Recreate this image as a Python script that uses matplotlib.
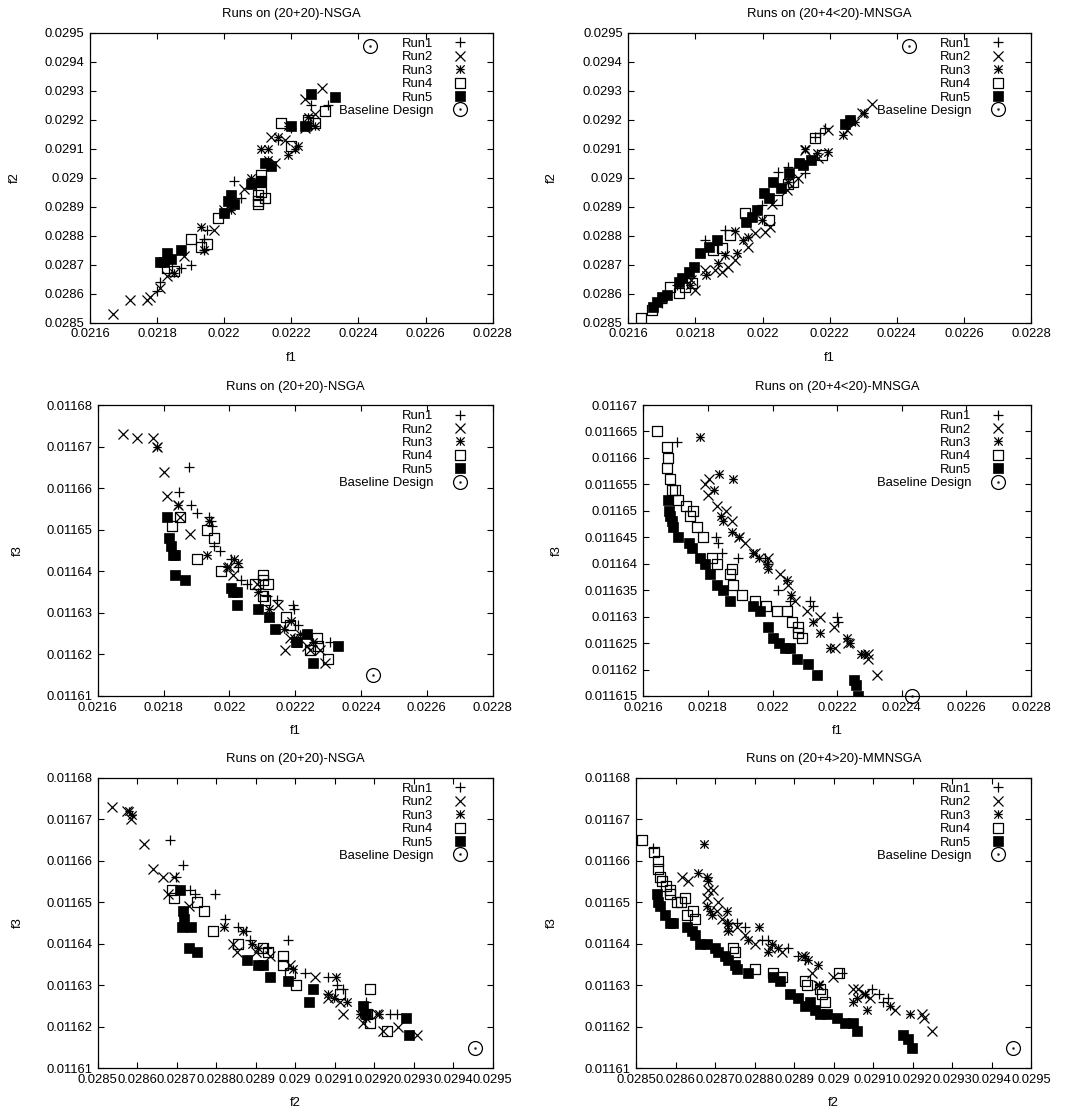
import numpy as np
import matplotlib
matplotlib.use("Agg")
import matplotlib.pyplot as plt
from matplotlib.path import Path
import matplotlib.ticker as ticker

plt.rcParams['font.family'] = ['Liberation Sans', 'DejaVu Sans']
FS = 9.4

# ---------------- data: panel A (f1 vs f2, (20+20)-NSGA) ----------------
a_run1 = [(0.02180, 0.02861), (0.02181, 0.02864), (0.02187, 0.02869), (0.02190, 0.02870),
          (0.02194, 0.02875), (0.02194, 0.02879), (0.02195, 0.02882), (0.02200, 0.02888),
          (0.02203, 0.02899), (0.02205, 0.02893), (0.02211, 0.02899), (0.02216, 0.02913),
          (0.02220, 0.02917), (0.02226, 0.02925), (0.02226, 0.02918), (0.02231, 0.02925),
          (0.02225, 0.02919)]
a_run2 = [(0.02167, 0.02853), (0.02172, 0.02858), (0.02177, 0.02858), (0.02178, 0.02859),
          (0.02181, 0.02862), (0.02183, 0.02866), (0.02188, 0.02873), (0.02197, 0.02882),
          (0.02200, 0.02889), (0.02206, 0.02896), (0.02214, 0.02914), (0.02215, 0.02905),
          (0.02218, 0.02913), (0.02224, 0.02917), (0.02224, 0.02927), (0.02227, 0.02922),
          (0.02229, 0.02931)]
a_run3 = [(0.02185, 0.02867), (0.02193, 0.02883), (0.02194, 0.02875), (0.02200, 0.02888),
          (0.02202, 0.02889), (0.02208, 0.02900), (0.02211, 0.02910), (0.02213, 0.02910),
          (0.02213, 0.02906), (0.02216, 0.02914), (0.02219, 0.02908), (0.02219, 0.02918),
          (0.02221, 0.02910), (0.02222, 0.02911), (0.02225, 0.02921), (0.02227, 0.02918)]
a_run4 = [(0.02183, 0.02869), (0.02185, 0.02868), (0.02190, 0.02879), (0.02193, 0.02876),
          (0.02195, 0.02877), (0.02198, 0.02886), (0.02210, 0.02891), (0.02210, 0.02892),
          (0.02212, 0.02893), (0.02211, 0.02899), (0.02211, 0.02901), (0.02210, 0.02894),
          (0.02211, 0.02895), (0.02217, 0.02919), (0.02220, 0.02911), (0.02227, 0.02919),
          (0.02225, 0.02920), (0.02230, 0.02923)]
a_run5 = [(0.02181, 0.02871), (0.02182, 0.02871), (0.02183, 0.02874), (0.02184, 0.02872),
          (0.02187, 0.02875), (0.02200, 0.02888), (0.02201, 0.02892), (0.02202, 0.02894),
          (0.02203, 0.02891), (0.02208, 0.02898), (0.02211, 0.02899), (0.02212, 0.02905),
          (0.02214, 0.02904), (0.02220, 0.02918), (0.02224, 0.02918), (0.02226, 0.02929),
          (0.02233, 0.02928)]

# ---------------- panel B (f1 vs f2, (20+4<20)-MNSGA) ----------------
b_run1 = [(0.021700, 0.028567), (0.021744, 0.028630), (0.021830, 0.028785), (0.021888, 0.028820),
          (0.021997, 0.028906), (0.022047, 0.029021), (0.022077, 0.029038), (0.022127, 0.029015),
          (0.022156, 0.029141), (0.022171, 0.029153), (0.022186, 0.029170), (0.022256, 0.029199)]
b_run2 = [(0.021798, 0.028613), (0.021788, 0.028647), (0.021828, 0.028682), (0.021858, 0.028682),
          (0.021878, 0.028676), (0.021898, 0.028693), (0.021918, 0.028716), (0.021958, 0.028762),
          (0.021978, 0.028808), (0.022008, 0.028814), (0.022022, 0.028831), (0.022027, 0.028911),
          (0.022072, 0.028957), (0.022107, 0.028998), (0.022127, 0.029095), (0.022166, 0.029067),
          (0.022196, 0.029164), (0.022251, 0.029164), (0.022296, 0.029222), (0.022326, 0.029254)]
b_run3 = [(0.021783, 0.028630), (0.021833, 0.028664), (0.021868, 0.028705), (0.021888, 0.028733),
          (0.021917, 0.028817), (0.021923, 0.028739), (0.021943, 0.028785), (0.021958, 0.028797),
          (0.021998, 0.028854), (0.022077, 0.028986), (0.022127, 0.029098), (0.022161, 0.029084),
          (0.022196, 0.029090), (0.022241, 0.029147), (0.022276, 0.029193), (0.022301, 0.029222)]
b_run4 = [(0.021638, 0.028515), (0.021670, 0.028544), (0.021724, 0.028624), (0.021750, 0.028601),
          (0.021770, 0.028624), (0.021790, 0.028636), (0.021853, 0.028751), (0.021878, 0.028756),
          (0.021903, 0.028802), (0.021948, 0.028877), (0.022018, 0.028854), (0.022042, 0.028923),
          (0.022077, 0.028980), (0.022092, 0.028986), (0.022156, 0.029136), (0.022176, 0.029078)]
b_run5 = [(0.021675, 0.028555), (0.021685, 0.028572), (0.021700, 0.028590), (0.021715, 0.028595),
          (0.021750, 0.028640), (0.021760, 0.028653), (0.021780, 0.028676), (0.021795, 0.028693),
          (0.021815, 0.028740), (0.021840, 0.028762), (0.021865, 0.028785), (0.021950, 0.028848),
          (0.021970, 0.028865), (0.021985, 0.028888), (0.022005, 0.028946), (0.022020, 0.028929),
          (0.022030, 0.028986), (0.022055, 0.028963), (0.022080, 0.029015), (0.022110, 0.029050),
          (0.022120, 0.029044), (0.022145, 0.029061), (0.022247, 0.029185), (0.022262, 0.029199)]

# ---------------- panel C (f1 vs f3, (20+20)-NSGA) ----------------
c_run1 = [(0.021876, 0.011665), (0.021846, 0.011659), (0.021884, 0.011656), (0.021903, 0.011654),
          (0.021938, 0.011653), (0.021943, 0.011652), (0.021948, 0.011651), (0.021953, 0.011646),
          (0.021972, 0.011645), (0.022004, 0.011643), (0.022027, 0.011641), (0.022034, 0.011638),
          (0.022053, 0.011637), (0.022114, 0.011634), (0.022144, 0.011633), (0.022192, 0.011632),
          (0.022195, 0.011631), (0.022209, 0.011627), (0.022306, 0.011623)]
c_run2 = [(0.021676, 0.011673), (0.021718, 0.011672), (0.021767, 0.011672), (0.021781, 0.011670),
          (0.021800, 0.011664), (0.021810, 0.011658), (0.021845, 0.011656), (0.021850, 0.011653),
          (0.021879, 0.011649), (0.022000, 0.011641), (0.022012, 0.011639), (0.022083, 0.011637),
          (0.022149, 0.011632), (0.022119, 0.011629), (0.022169, 0.011621), (0.022184, 0.011624),
          (0.022235, 0.011622), (0.022245, 0.011621), (0.022291, 0.011618), (0.022275, 0.011621)]
c_run3 = [(0.021779, 0.011670), (0.021845, 0.011656), (0.021938, 0.011652), (0.021933, 0.011644),
          (0.021994, 0.011641), (0.022013, 0.011643), (0.022025, 0.011642), (0.022086, 0.011635),
          (0.022121, 0.011631), (0.022166, 0.011626), (0.022186, 0.011628), (0.022196, 0.011624),
          (0.022215, 0.011625), (0.022255, 0.011623)]
c_run4 = [(0.021825, 0.011651), (0.021850, 0.011653), (0.021903, 0.011643), (0.021932, 0.011650),
          (0.021952, 0.011648), (0.021974, 0.011640), (0.022078, 0.011637), (0.022103, 0.011639),
          (0.022103, 0.011638), (0.022118, 0.011637), (0.022103, 0.011634), (0.022108, 0.011633),
          (0.022172, 0.011629), (0.022184, 0.011627), (0.022265, 0.011624), (0.022270, 0.011622),
          (0.022245, 0.011621), (0.022301, 0.011619)]
c_run5 = [(0.021810, 0.011653), (0.021818, 0.011648), (0.021822, 0.011646), (0.021828, 0.011644),
          (0.021836, 0.011644), (0.021836, 0.011639), (0.021866, 0.011638), (0.022004, 0.011636),
          (0.022012, 0.011635), (0.022024, 0.011635), (0.022022, 0.011632), (0.022088, 0.011631),
          (0.022120, 0.011629), (0.022138, 0.011626), (0.022202, 0.011623), (0.022204, 0.011623),
          (0.022236, 0.011625), (0.022255, 0.011618), (0.022331, 0.011622)]

# ---------------- panel D (f1 vs f3, (20+4<20)-MNSGA) ----------------
d_run1 = [(0.021703, 0.011663), (0.021825, 0.011645), (0.021832, 0.011644), (0.021845, 0.011642),
          (0.021892, 0.011641), (0.021977, 0.011641), (0.021987, 0.011640), (0.022018, 0.011635),
          (0.022054, 0.011633), (0.022116, 0.011633), (0.022126, 0.011632), (0.022199, 0.011630),
          (0.022204, 0.011629)]
d_run2 = [(0.021791, 0.011655), (0.021803, 0.011656), (0.021801, 0.011653), (0.021827, 0.011651),
          (0.021855, 0.011650), (0.021874, 0.011648), (0.021895, 0.011645), (0.021915, 0.011644),
          (0.021946, 0.011642), (0.021987, 0.011641), (0.022023, 0.011638), (0.022049, 0.011636),
          (0.022070, 0.011633), (0.022106, 0.011631), (0.022147, 0.011630), (0.022189, 0.011628),
          (0.022194, 0.011624), (0.022235, 0.011625), (0.022297, 0.011623), (0.022297, 0.011622),
          (0.022322, 0.011619)]
d_run3 = [(0.021777, 0.011664), (0.021835, 0.011657), (0.021877, 0.011656), (0.021819, 0.011654),
          (0.021842, 0.011649), (0.021847, 0.011648), (0.021874, 0.011646), (0.021895, 0.011645),
          (0.021941, 0.011642), (0.021958, 0.011641), (0.021982, 0.011640), (0.021987, 0.011639),
          (0.022044, 0.011637), (0.022057, 0.011634), (0.022126, 0.011629), (0.022147, 0.011627),
          (0.022178, 0.011624), (0.022229, 0.011626), (0.022240, 0.011625), (0.022274, 0.011623),
          (0.022286, 0.011623)]
d_run4 = [(0.021641, 0.011665), (0.021672, 0.011662), (0.021677, 0.011660), (0.021672, 0.011658),
          (0.021683, 0.011656), (0.021688, 0.011654), (0.021698, 0.011654), (0.021706, 0.011652),
          (0.021732, 0.011651), (0.021755, 0.011650), (0.021745, 0.011649), (0.021765, 0.011647),
          (0.021786, 0.011645), (0.021812, 0.011641), (0.021828, 0.011640), (0.021874, 0.011639),
          (0.021868, 0.011638), (0.021878, 0.011636), (0.021906, 0.011634), (0.021946, 0.011633),
          (0.021979, 0.011632), (0.022013, 0.011631), (0.022044, 0.011631), (0.022059, 0.011629),
          (0.022080, 0.011628), (0.022078, 0.011627), (0.022090, 0.011626)]
d_run5 = [(0.021677, 0.011652), (0.021681, 0.011650), (0.021683, 0.011649), (0.021688, 0.011648),
          (0.021693, 0.011647), (0.021706, 0.011645), (0.021742, 0.011644), (0.021750, 0.011643),
          (0.021776, 0.011641), (0.021791, 0.011640), (0.021807, 0.011638), (0.021828, 0.011636),
          (0.021848, 0.011635), (0.021867, 0.011633), (0.021941, 0.011632), (0.021962, 0.011631),
          (0.021986, 0.011628), (0.022000, 0.011626), (0.022019, 0.011625), (0.022040, 0.011624),
          (0.022055, 0.011624), (0.022076, 0.011622), (0.022109, 0.011621), (0.022138, 0.011619),
          (0.022251, 0.011618), (0.022258, 0.011617), (0.022264, 0.011615)]

# ---------------- panel E (f2 vs f3, (20+20)-NSGA) ----------------
e_run1 = [(0.028683, 0.011665), (0.028715, 0.011659), (0.028698, 0.011656), (0.028734, 0.011653),
          (0.028746, 0.011652), (0.028797, 0.011652), (0.028823, 0.011646), (0.028856, 0.011644),
          (0.028875, 0.011643), (0.028983, 0.011641), (0.028886, 0.011641), (0.028928, 0.011639),
          (0.029025, 0.011633), (0.029084, 0.011632), (0.029105, 0.011630), (0.029122, 0.011629),
          (0.029180, 0.011626), (0.029240, 0.011623), (0.029257, 0.011623)]
e_run2 = [(0.028535, 0.011673), (0.028575, 0.011672), (0.028584, 0.011670), (0.028616, 0.011664),
          (0.028640, 0.011658), (0.028666, 0.011656), (0.028679, 0.011652), (0.028692, 0.011656),
          (0.028732, 0.011649), (0.028843, 0.011640), (0.028852, 0.011638), (0.028902, 0.011638),
          (0.028936, 0.011637), (0.028987, 0.011635), (0.029050, 0.011632), (0.029084, 0.011627),
          (0.029122, 0.011623), (0.029114, 0.011626), (0.029172, 0.011621), (0.029206, 0.011623),
          (0.029222, 0.011619), (0.029261, 0.011620), (0.029308, 0.011618)]
e_run3 = [(0.028579, 0.011672), (0.028586, 0.011671), (0.028820, 0.011644), (0.028869, 0.011643),
          (0.028890, 0.011640), (0.028907, 0.011639), (0.028995, 0.011634), (0.029084, 0.011628),
          (0.029097, 0.011627), (0.029103, 0.011632), (0.029130, 0.011626), (0.029164, 0.011623),
          (0.029180, 0.011622), (0.029211, 0.011623)]
e_run4 = [(0.028687, 0.011653), (0.028692, 0.011651), (0.028752, 0.011650), (0.028768, 0.011648),
          (0.028793, 0.011643), (0.028856, 0.011640), (0.028919, 0.011639), (0.028932, 0.011638),
          (0.028968, 0.011637), (0.028968, 0.011635), (0.028987, 0.011633), (0.029002, 0.011630),
          (0.029114, 0.011628), (0.029189, 0.011629), (0.029181, 0.011623), (0.029189, 0.011621),
          (0.029232, 0.011619)]
e_run5 = [(0.028708, 0.011653), (0.028715, 0.011648), (0.028719, 0.011646), (0.028713, 0.011644),
          (0.028736, 0.011644), (0.028730, 0.011639), (0.028752, 0.011638), (0.028879, 0.011636),
          (0.028907, 0.011635), (0.028919, 0.011635), (0.028936, 0.011632), (0.028983, 0.011631),
          (0.029046, 0.011629), (0.029036, 0.011626), (0.029172, 0.011625), (0.029180, 0.011623),
          (0.029281, 0.011622), (0.029287, 0.011618)]

# ---------------- panel F (f2 vs f3, (20+4>20)-MMNSGA) ----------------
f_run1 = [(0.028544, 0.011663), (0.028730, 0.011645), (0.028755, 0.011645), (0.028776, 0.011644),
          (0.028818, 0.011641), (0.028835, 0.011641), (0.028886, 0.011639), (0.028911, 0.011637),
          (0.028928, 0.011636), (0.029021, 0.011633), (0.029097, 0.011629), (0.029114, 0.011628),
          (0.029126, 0.011626), (0.029139, 0.011627)]
f_run2 = [(0.028616, 0.011656), (0.028632, 0.011655), (0.028679, 0.011651), (0.028683, 0.011653),
          (0.028696, 0.011653), (0.028708, 0.011650), (0.028704, 0.011648), (0.028717, 0.011646),
          (0.028734, 0.011644), (0.028755, 0.011644), (0.028776, 0.011642), (0.028801, 0.011640),
          (0.028839, 0.011639), (0.028869, 0.011638), (0.028919, 0.011637), (0.028945, 0.011633),
          (0.028962, 0.011630), (0.028999, 0.011632), (0.029050, 0.011629), (0.029063, 0.011629),
          (0.029076, 0.011628), (0.029093, 0.011627), (0.029156, 0.011624), (0.029223, 0.011623),
          (0.029228, 0.011622), (0.029249, 0.011619)]
f_run3 = [(0.028673, 0.011664), (0.028658, 0.011657), (0.028679, 0.011656), (0.028683, 0.011655),
          (0.028679, 0.011649), (0.028687, 0.011648), (0.028692, 0.011647), (0.028730, 0.011648),
          (0.028732, 0.011645), (0.028734, 0.011643), (0.028784, 0.011641), (0.028811, 0.011644),
          (0.028833, 0.011638), (0.028845, 0.011640), (0.028860, 0.011639), (0.028928, 0.011637),
          (0.028936, 0.011636), (0.028960, 0.011635), (0.028963, 0.011630), (0.029050, 0.011626),
          (0.029059, 0.011627), (0.029080, 0.011628), (0.029084, 0.011624), (0.029143, 0.011625),
          (0.029194, 0.011623)]
f_run4 = [(0.028514, 0.011665), (0.028546, 0.011662), (0.028556, 0.011660), (0.028556, 0.011658),
          (0.028560, 0.011656), (0.028565, 0.011655), (0.028577, 0.011654), (0.028586, 0.011653),
          (0.028586, 0.011652), (0.028603, 0.011650), (0.028615, 0.011650), (0.028624, 0.011651),
          (0.028628, 0.011647), (0.028645, 0.011648), (0.028649, 0.011646), (0.028746, 0.011639),
          (0.028750, 0.011638), (0.028801, 0.011634), (0.028848, 0.011633), (0.028869, 0.011632),
          (0.028928, 0.011631), (0.028932, 0.011630), (0.028966, 0.011629), (0.028970, 0.011628),
          (0.028979, 0.011626), (0.029013, 0.011633)]
f_run5 = [(0.028552, 0.011652), (0.028556, 0.011650), (0.028560, 0.011649), (0.028573, 0.011647),
          (0.028586, 0.011645), (0.028593, 0.011645), (0.028628, 0.011644), (0.028641, 0.011643),
          (0.028649, 0.011642), (0.028662, 0.011640), (0.028679, 0.011640), (0.028700, 0.011639),
          (0.028708, 0.011638), (0.028725, 0.011637), (0.028734, 0.011636), (0.028750, 0.011635),
          (0.028755, 0.011634), (0.028784, 0.011633), (0.028848, 0.011632), (0.028865, 0.011631),
          (0.028890, 0.011628), (0.028911, 0.011627), (0.028928, 0.011625), (0.028940, 0.011626),
          (0.028953, 0.011624), (0.028966, 0.011623), (0.028983, 0.011623), (0.029008, 0.011622),
          (0.029029, 0.011621), (0.029050, 0.011621), (0.029059, 0.011619), (0.029177, 0.011618),
          (0.029188, 0.011617), (0.029198, 0.011615)]

# baseline design (f1, f2, f3)
baseline = (0.022435, 0.029455, 0.011615)

run_labels = ["Run1", "Run2", "Run3", "Run4", "Run5"]

# ---------------- markers (gnuplot look) ----------------
M, L, C = Path.MOVETO, Path.LINETO, Path.CLOSEPOLY
d = 0.07
box_dot = Path([(-1, -1), (1, -1), (1, 1), (-1, 1), (-1, -1),
                (-d, -d), (d, -d), (d, d), (-d, d), (-d, -d)],
               [M, L, L, L, C, M, L, L, L, C])
dot = Path([(-d, -d), (d, -d), (d, d), (-d, d), (-d, -d)], [M, L, L, L, C])
circle_dot = Path.make_compound_path(Path.unit_circle(), dot)
star = Path([(-1, 0), (1, 0), (0, -1), (0, 1), (-1, -1), (1, 1), (-1, 1), (1, -1)],
            [M, L, M, L, M, L, M, L])

styles = [
    dict(marker='+', ms=7, mew=0.9, mfc='none'),
    dict(marker='x', ms=6.5, mew=0.9, mfc='none'),
    dict(marker=star, ms=6, mew=0.9, mfc='none'),
    dict(marker=box_dot, ms=6.5, mew=0.9, mfc='none'),
    dict(marker='s', ms=7, mew=0.5, mfc='black'),
]

panels = [
    ([a_run1, a_run2, a_run3, a_run4, a_run5], (baseline[0], baseline[1]),
     "Runs on (20+20)-NSGA", "f1", "f2",
     (0.0216, 0.0228, 7), (0.0285, 0.0295, 11), [90, 32.7, 492.7, 322.7], 15),
    ([b_run1, b_run2, b_run3, b_run4, b_run5], (baseline[0], baseline[1]),
     "Runs on (20+4<20)-MNSGA", "f1", "f2",
     (0.0216, 0.0228, 7), (0.0285, 0.0295, 11), [628.3, 32.7, 1031, 322.7], 552),
    ([c_run1, c_run2, c_run3, c_run4, c_run5], (baseline[0], baseline[2]),
     "Runs on (20+20)-NSGA", "f1", "f3",
     (0.0216, 0.0228, 7), (0.01161, 0.01168, 8), [97.7, 405, 492.7, 696], 17.5),
    ([d_run1, d_run2, d_run3, d_run4, d_run5], (0.022431, 0.011615),
     "Runs on (20+4<20)-MNSGA", "f1", "f3",
     (0.0216, 0.0228, 7), (0.011615, 0.01167, 12), [643.3, 405, 1031, 696], 556.5),
    ([e_run1, e_run2, e_run3, e_run4, e_run5], (baseline[1], baseline[2]),
     "Runs on (20+20)-NSGA", "f2", "f3",
     (0.0285, 0.0295, 11), (0.01161, 0.01168, 8), [97.7, 777.7, 492.7, 1068.3], 17.5),
    ([f_run1, f_run2, f_run3, f_run4, f_run5], (baseline[1], baseline[2]),
     "Runs on (20+4>20)-MMNSGA", "f2", "f3",
     (0.0285, 0.0295, 11), (0.01161, 0.01168, 8), [636, 777.7, 1031, 1068.3], 552),
]

W, H = 1075, 1111
fig = plt.figure(figsize=(W / 100, H / 100), dpi=100)
fmt = ticker.FuncFormatter(lambda v, p: "%g" % round(v, 7))

for runs, base, title, xl, yl, xr, yr, box, ylab_x in panels:
    x0, y0, x1, y1 = box
    ax = fig.add_axes([x0 / W, 1 - y1 / H, (x1 - x0) / W, (y1 - y0) / H])
    for pts, lab, st in zip(runs, run_labels, styles):
        xs, ys = zip(*pts)
        ax.plot(xs, ys, ls='none', color='black', mec='black', label=lab, **st)
    ax.plot([base[0]], [base[1]], ls='none', marker=circle_dot, ms=10, mew=0.9,
            mfc='none', mec='black', label="Baseline Design", clip_on=False)

    ax.set_xlim(xr[0], xr[1])
    ax.set_ylim(yr[0], yr[1])
    ax.set_xticks(np.linspace(*xr))
    ax.set_yticks(np.linspace(*yr))
    ax.xaxis.set_major_formatter(fmt)
    ax.yaxis.set_major_formatter(fmt)
    ax.tick_params(direction='in', top=True, right=True, length=4, width=0.8,
                   labelsize=FS, pad=4)
    for sp in ax.spines.values():
        sp.set_linewidth(0.9)

    ax.set_title(title, fontsize=FS, pad=11)
    ax.set_xlabel(xl, fontsize=FS)
    ax.set_ylabel(yl, fontsize=FS)
    wpx, hpx = x1 - x0, y1 - y0
    ax.xaxis.set_label_coords(0.5, -(29 / hpx))
    ax.yaxis.set_label_coords((ylab_x + 6 - x0) / wpx, 0.5)

    leg = ax.legend(loc='upper right', bbox_to_anchor=(1 - 23 / wpx, 1 - 5 / hpx),
                    frameon=False, markerfirst=False, numpoints=1, fontsize=FS,
                    handlelength=1.5, handletextpad=1.3, labelspacing=0.1,
                    borderpad=0, borderaxespad=0)

fig.savefig("out.png", dpi=100)
